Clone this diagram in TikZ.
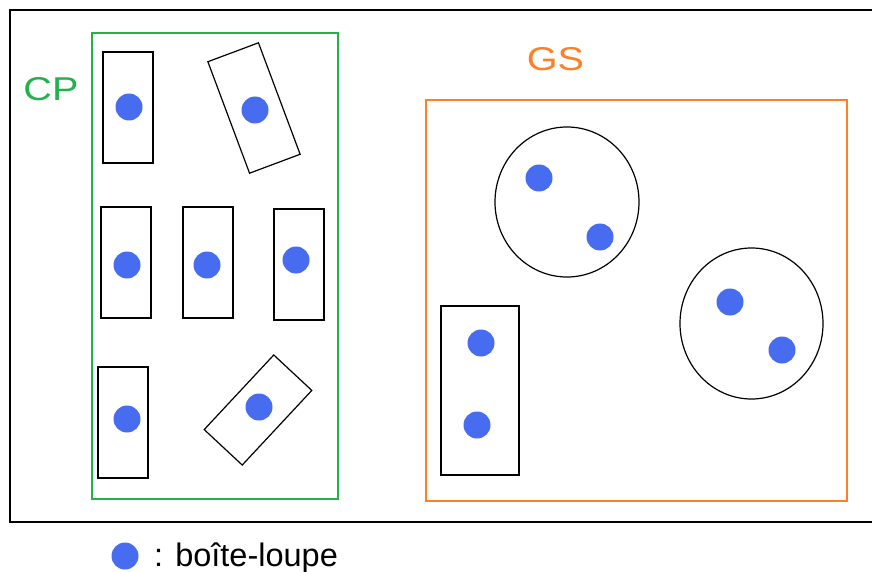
\documentclass[tikz,border=0pt]{standalone}
\usepackage{fontspec}
\setmainfont{Liberation Sans}
\usetikzlibrary{shapes.geometric}
\definecolor{cpgreen}{RGB}{34,177,76}
\definecolor{gsorange}{RGB}{255,127,39}
\definecolor{dotblue}{RGB}{72,108,240}
\begin{document}
\begin{tikzpicture}[x=1pt,y=-1pt,
  box/.style={draw=black,line width=1.2pt,minimum width=50pt,minimum height=111pt,inner sep=0pt},
  loupe/.style={circle,fill=dotblue,minimum size=27pt,inner sep=0pt},
  ring/.style={draw=black,line width=1.2pt,ellipse,inner sep=0pt},
  title/.style={font=\fontsize{33}{35}\selectfont,xscale=1.2,inner sep=0pt}]
\useasboundingbox (0,0) rectangle (872,572);
\draw[line width=1.5pt] (10,10) rectangle (876,522);
\draw[cpgreen,line width=1.2pt] (92,33) rectangle (338,499);
\draw[gsorange,line width=1.2pt] (426,100) rectangle (847,501);
\node[title,text=cpgreen] (cp) at (51,89.5) {CP};
\node[title,text=gsorange] (gs) at (555.5,59) {GS};
% CP boxes
\node[box] (b1) at (128,107.5) {};
\node[box,rotate=20.5,minimum height=119pt,minimum width=54pt] (b2) at (254,108) {};
\node[box] (b3) at (126,262.5) {};
\node[box] (b4) at (208,262.5) {};
\node[box] (b5) at (299,264.5) {};
\node[box] (b6) at (123,422.5) {};
\node[box,rotate=-43,minimum height=102pt,minimum width=52pt] (b7) at (258,410) {};
\node[loupe] (d1) at (129,107) {};
\node[loupe] (d2) at (255,110) {};
\node[loupe] (d3) at (127,265) {};
\node[loupe] (d4) at (207,265) {};
\node[loupe] (d5) at (296,260) {};
\node[loupe] (d6) at (127,419) {};
\node[loupe] (d7) at (259,407) {};
% GS
\node[ring,minimum width=144pt,minimum height=150pt] (c1) at (567,202) {};
\node[ring,minimum width=143pt,minimum height=151pt] (c2) at (751.5,323.5) {};
\draw[line width=1.2pt] (441,306) rectangle (519,475);
\node[loupe] (d8) at (539,178) {};
\node[loupe] (d9) at (600,237) {};
\node[loupe] (d10) at (730,302) {};
\node[loupe] (d11) at (782,350) {};
\node[loupe] (d12) at (481,343) {};
\node[loupe] (d13) at (477,425) {};
% legend
\node[loupe] (leg) at (125,556) {};
\node[anchor=base west,font=\fontsize{32.5}{34}\selectfont,inner sep=0pt] (legt) at (154,566) {: boîte-loupe};
\end{tikzpicture}
\end{document}
